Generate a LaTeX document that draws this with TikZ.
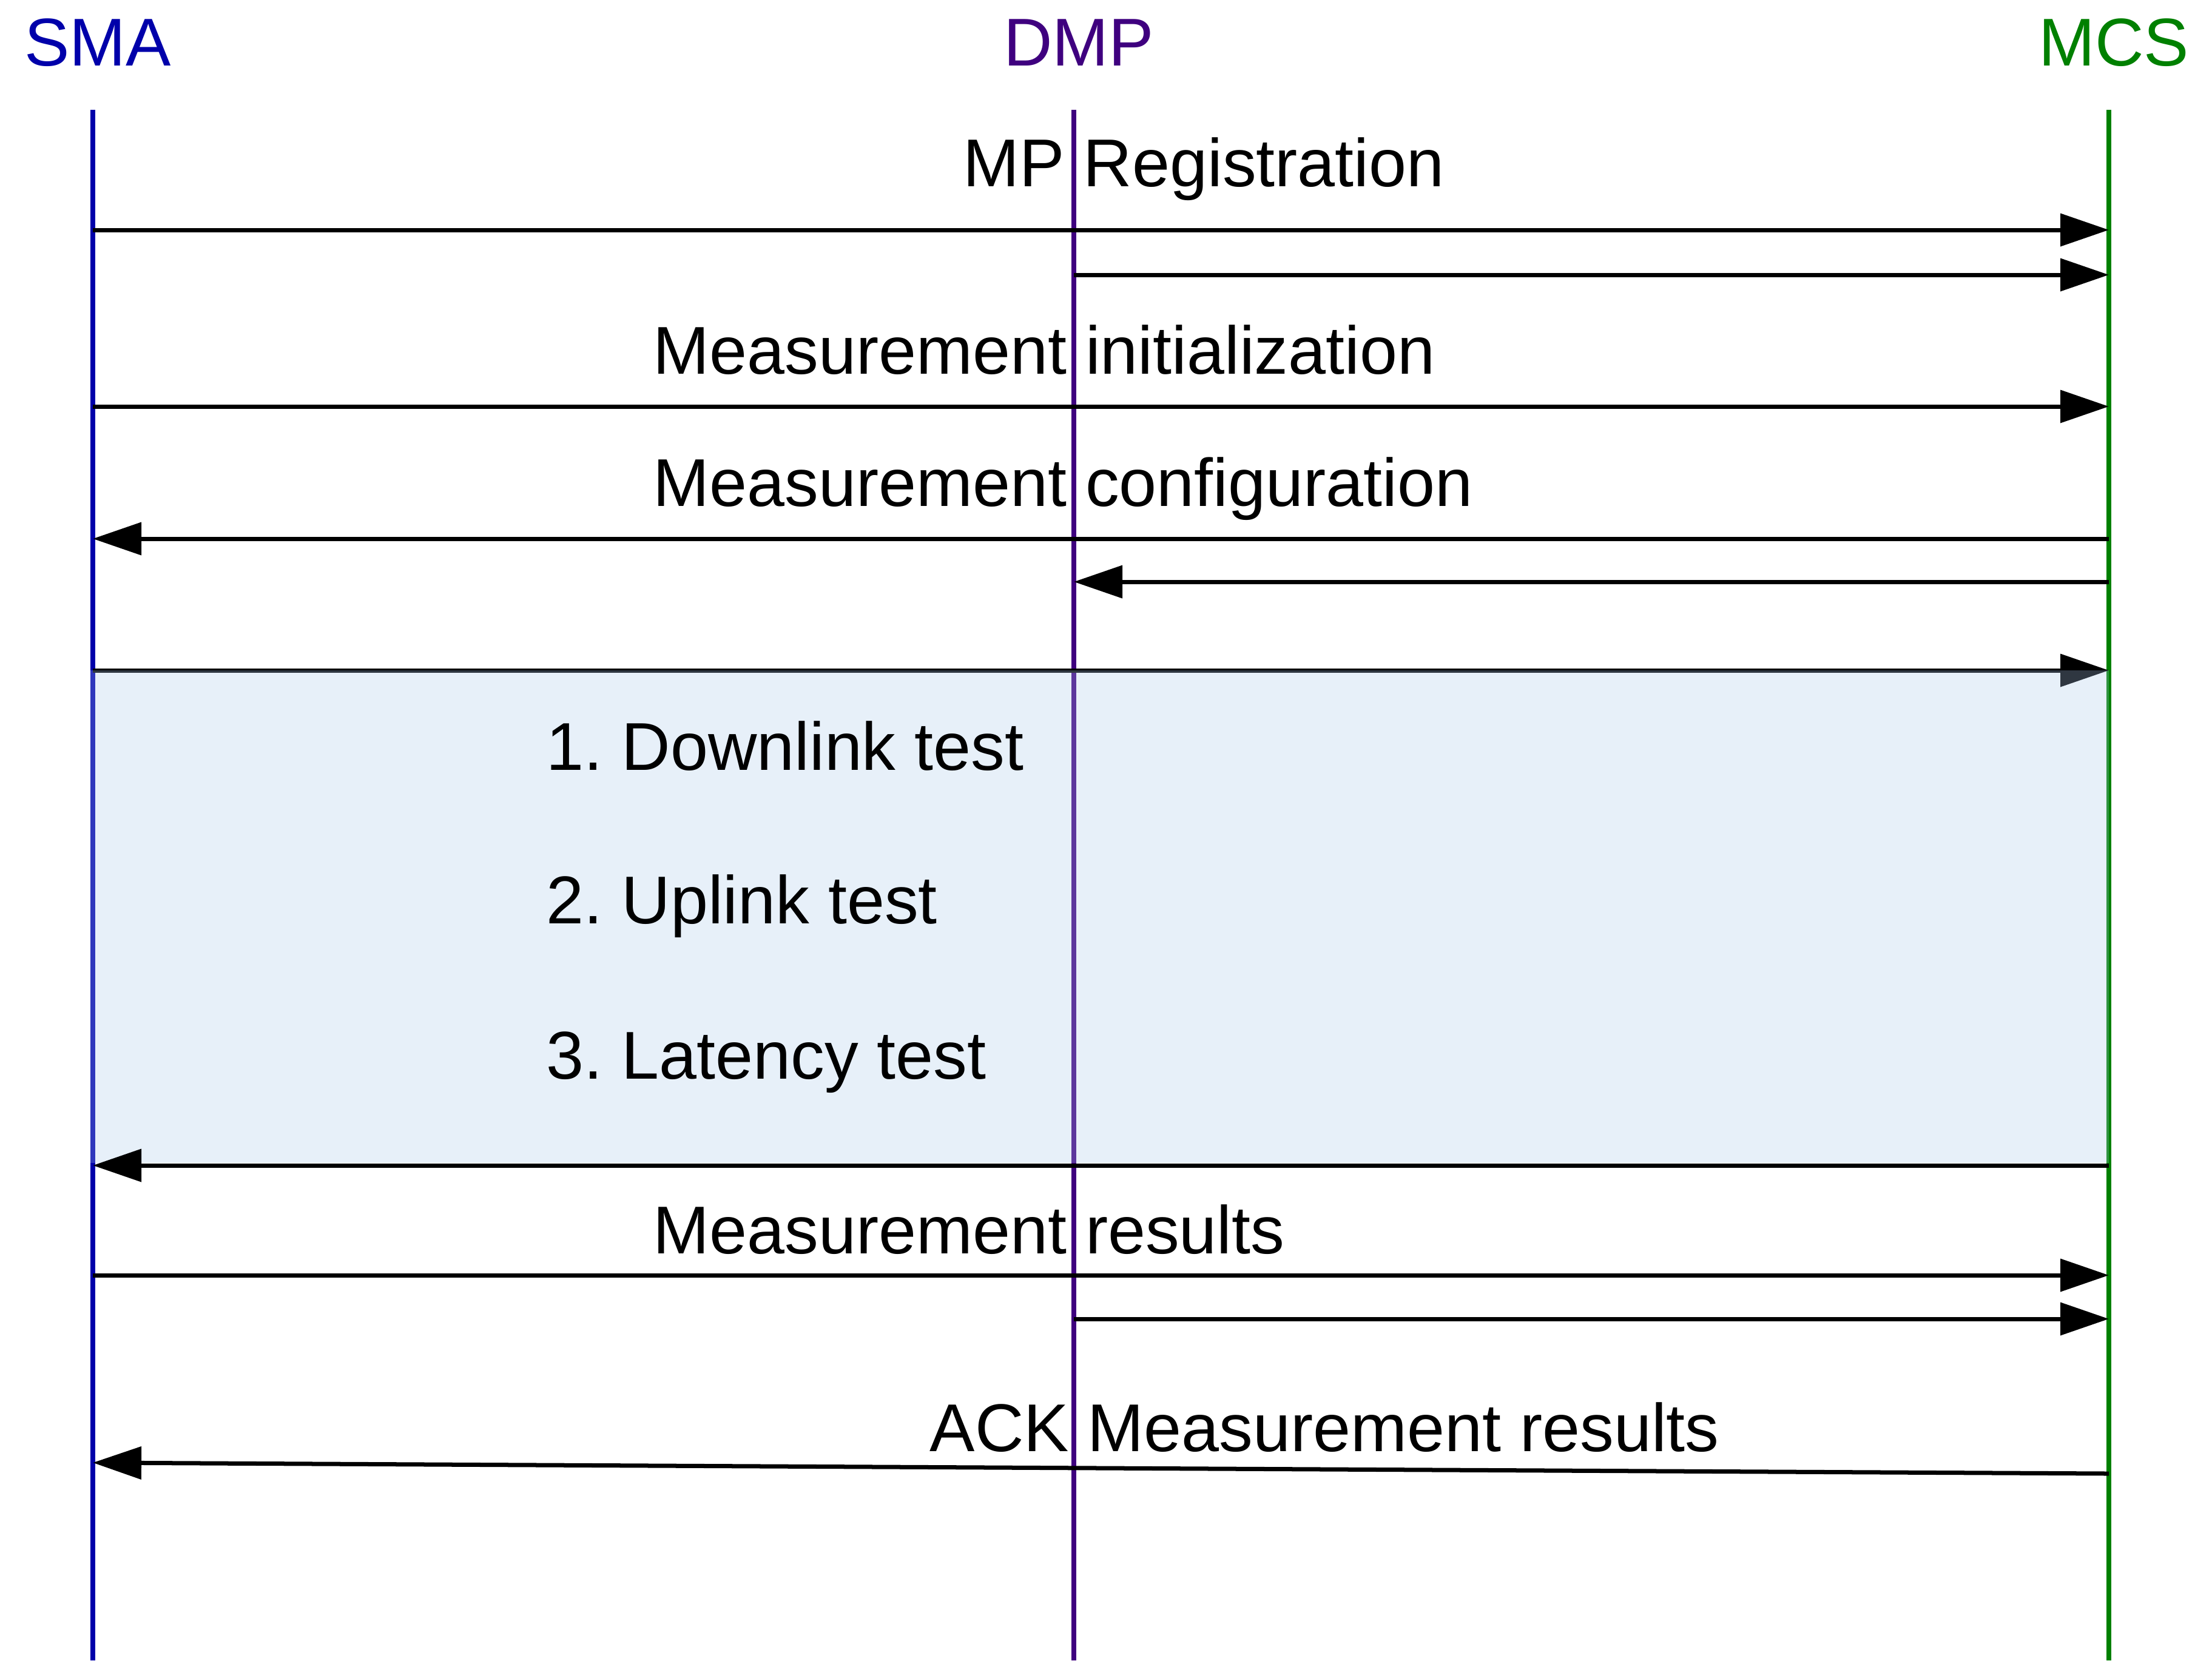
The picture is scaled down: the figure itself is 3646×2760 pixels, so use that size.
\documentclass[tikz,border=0pt]{standalone}
\usepackage{fontspec}
\setmainfont{Liberation Sans}
\usetikzlibrary{arrows.meta}
\frenchspacing

\definecolor{smablue}{HTML}{0000AA}
\definecolor{dmppurple}{HTML}{3F007F}
\definecolor{mcsgreen}{HTML}{008000}
\definecolor{testfill}{RGB}{170,200,235}

\tikzset{
  bigfont/.style={font=\fontsize{31.7pt}{38pt}\selectfont},
  head/.style={bigfont, inner sep=0pt, anchor=base},
  lbl/.style={bigfont, inner sep=0pt, anchor=base west},
  life/.style={line width=0.08cm},
  msg/.style={line width=0.07cm, -{Triangle[length=0.8cm,width=0.53cm]}},
  testbox/.style={fill=testfill, fill opacity=0.28},
}

\begin{document}
\begin{tikzpicture}[x=0.01cm,y=-0.01cm]
  \useasboundingbox (0,0) rectangle (3646,2760);

  \node[head,text=smablue] (sma) at (161,108) {SMA};
  \node[head,text=dmppurple] (dmp) at (1778,108) {DMP};
  \node[head,text=mcsgreen] (mcs) at (3484,108) {MCS};

  \coordinate (sma-top) at (153,181);
  \coordinate (sma-bot) at (153,2737);
  \coordinate (dmp-top) at (1770,181);
  \coordinate (dmp-bot) at (1770,2737);
  \coordinate (mcs-top) at (3476,181);
  \coordinate (mcs-bot) at (3476,2737);
  \draw[life,smablue] (sma-top) -- (sma-bot);
  \draw[life,dmppurple] (dmp-top) -- (dmp-bot);
  \draw[life,mcsgreen] (mcs-top) -- (mcs-bot);

  \coordinate (r1) at (0,379);
  \coordinate (r2) at (0,453);
  \coordinate (r3) at (0,670);
  \coordinate (r4) at (0,888);
  \coordinate (r5) at (0,959);
  \coordinate (r6) at (0,1105);
  \coordinate (r7) at (0,1921);
  \coordinate (r8) at (0,2102);
  \coordinate (r9) at (0,2174);
  \coordinate (r10) at (0,2429);
  \coordinate (r11) at (0,2411);

  \node[lbl] (reg) at (1587,307) {MP Registration};
  \draw[msg] (sma-top |- r1) -- (mcs-top |- r1);
  \draw[msg] (dmp-top |- r2) -- (mcs-top |- r2);

  \node[lbl] (init) at (1076,616) {Measurement initialization};
  \draw[msg] (sma-top |- r3) -- (mcs-top |- r3);

  \node[lbl] (conf) at (1076,834) {Measurement configuration};
  \draw[msg] (mcs-top |- r4) -- (sma-top |- r4);
  \draw[msg] (mcs-top |- r5) -- (dmp-top |- r5);

  \draw[msg] (sma-top |- r6) -- (mcs-top |- r6);
  \coordinate (box-nw) at (149,1105);
  \coordinate (box-se) at (3476,1917);
  \path[testbox] (box-nw) rectangle (box-se);
  \node[lbl] (t1) at (900,1269) {1. Downlink test};
  \node[lbl] (t2) at (900,1522) {2. Uplink test};
  \node[lbl] (t3) at (900,1778) {3. Latency test};
  \draw[msg] (mcs-top |- r7) -- (sma-top |- r7);

  \node[lbl] (res) at (1076,2066) {Measurement results};
  \draw[msg] (sma-top |- r8) -- (mcs-top |- r8);
  \draw[msg] (dmp-top |- r9) -- (mcs-top |- r9);

  \node[lbl] (ack) at (1532,2392) {ACK Measurement results};
  \draw[msg] (mcs-top |- r10) -- (sma-top |- r11);
\end{tikzpicture}
\end{document}
